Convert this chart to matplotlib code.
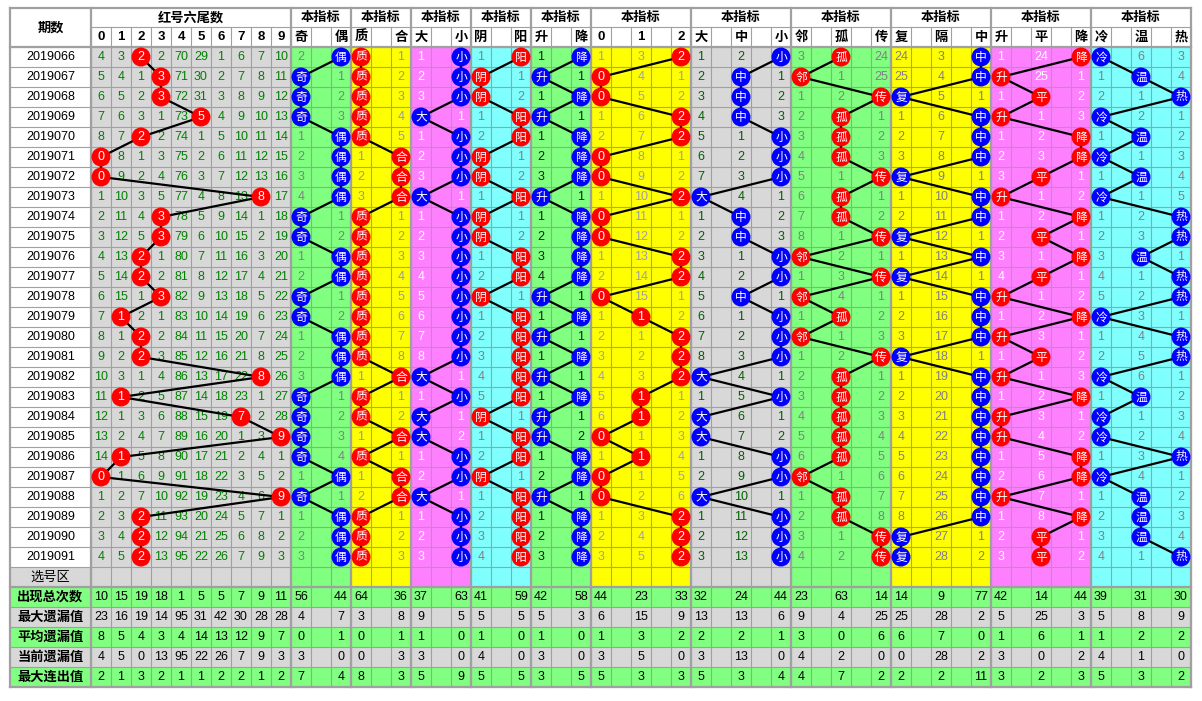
import matplotlib
matplotlib.use('Agg')
from matplotlib import pyplot as plt
from matplotlib.patches import Rectangle, Circle

plt.rcParams['font.family'] = ['Liberation Sans', 'Noto Sans CJK SC']

periods = ['2019066', '2019067', '2019068', '2019069', '2019070', '2019071', '2019072',
           '2019073', '2019074', '2019075', '2019076', '2019077', '2019078', '2019079',
           '2019080', '2019081', '2019082', '2019083', '2019084', '2019085', '2019086',
           '2019087', '2019088', '2019089', '2019090', '2019091']

digit_labels = ['0', '1', '2', '3', '4', '5', '6', '7', '8', '9']
# miss counts per row, 0 = hit (drawn as a ball)
digit_miss = [
    [4, 3, 0, 2, 70, 29, 1, 6, 7, 10],
    [5, 4, 1, 0, 71, 30, 2, 7, 8, 11],
    [6, 5, 2, 0, 72, 31, 3, 8, 9, 12],
    [7, 6, 3, 1, 73, 0, 4, 9, 10, 13],
    [8, 7, 0, 2, 74, 1, 5, 10, 11, 14],
    [0, 8, 1, 3, 75, 2, 6, 11, 12, 15],
    [0, 9, 2, 4, 76, 3, 7, 12, 13, 16],
    [1, 10, 3, 5, 77, 4, 8, 13, 0, 17],
    [2, 11, 4, 0, 78, 5, 9, 14, 1, 18],
    [3, 12, 5, 0, 79, 6, 10, 15, 2, 19],
    [4, 13, 0, 1, 80, 7, 11, 16, 3, 20],
    [5, 14, 0, 2, 81, 8, 12, 17, 4, 21],
    [6, 15, 1, 0, 82, 9, 13, 18, 5, 22],
    [7, 0, 2, 1, 83, 10, 14, 19, 6, 23],
    [8, 1, 0, 2, 84, 11, 15, 20, 7, 24],
    [9, 2, 0, 3, 85, 12, 16, 21, 8, 25],
    [10, 3, 1, 4, 86, 13, 17, 22, 0, 26],
    [11, 0, 2, 5, 87, 14, 18, 23, 1, 27],
    [12, 1, 3, 6, 88, 15, 19, 0, 2, 28],
    [13, 2, 4, 7, 89, 16, 20, 1, 3, 0],
    [14, 0, 5, 8, 90, 17, 21, 2, 4, 1],
    [0, 1, 6, 9, 91, 18, 22, 3, 5, 2],
    [1, 2, 7, 10, 92, 19, 23, 4, 6, 0],
    [2, 3, 0, 11, 93, 20, 24, 5, 7, 1],
    [3, 4, 0, 12, 94, 21, 25, 6, 8, 2],
    [4, 5, 0, 13, 95, 22, 26, 7, 9, 3],
]

odd_even = [[2, 0], [0, 1], [0, 2], [0, 3], [1, 0], [2, 0], [3, 0], [4, 0], [0, 1], [0, 2],
            [1, 0], [2, 0], [0, 1], [0, 2], [1, 0], [2, 0], [3, 0], [0, 1], [0, 2], [0, 3],
            [0, 4], [1, 0], [0, 1], [1, 0], [2, 0], [3, 0]]
prime_comp = [[0, 1], [0, 2], [0, 3], [0, 4], [0, 5], [1, 0], [2, 0], [3, 0], [0, 1], [0, 2],
              [0, 3], [0, 4], [0, 5], [0, 6], [0, 7], [0, 8], [1, 0], [0, 1], [0, 2], [1, 0],
              [0, 1], [1, 0], [2, 0], [0, 1], [0, 2], [0, 3]]
big_small = [[1, 0], [2, 0], [3, 0], [0, 1], [1, 0], [2, 0], [3, 0], [0, 1], [1, 0], [2, 0],
             [3, 0], [4, 0], [5, 0], [6, 0], [7, 0], [8, 0], [0, 1], [1, 0], [0, 1], [0, 2],
             [1, 0], [2, 0], [0, 1], [1, 0], [2, 0], [3, 0]]
yin_yang = [[1, 0], [0, 1], [0, 2], [1, 0], [2, 0], [0, 1], [0, 2], [1, 0], [0, 1], [0, 2],
            [1, 0], [2, 0], [0, 1], [1, 0], [2, 0], [3, 0], [4, 0], [5, 0], [0, 1], [1, 0],
            [2, 0], [0, 1], [1, 0], [2, 0], [3, 0], [4, 0]]
up_down = [[1, 0], [0, 1], [1, 0], [0, 1], [1, 0], [2, 0], [3, 0], [0, 1], [1, 0], [2, 0],
           [3, 0], [4, 0], [0, 1], [1, 0], [0, 1], [1, 0], [0, 1], [1, 0], [0, 1], [0, 2],
           [1, 0], [2, 0], [0, 1], [1, 0], [2, 0], [3, 0]]
mod3 = [[1, 3, 0], [0, 4, 1], [0, 5, 2], [1, 6, 0], [2, 7, 0], [0, 8, 1], [0, 9, 2],
        [1, 10, 0], [0, 11, 1], [0, 12, 2], [1, 13, 0], [2, 14, 0], [0, 15, 1], [1, 0, 2],
        [2, 1, 0], [3, 2, 0], [4, 3, 0], [5, 0, 1], [6, 0, 2], [0, 1, 3], [1, 0, 4],
        [0, 1, 5], [0, 2, 6], [1, 3, 0], [2, 4, 0], [3, 5, 0]]
size3 = [[1, 2, 0], [2, 0, 1], [3, 0, 2], [4, 0, 3], [5, 1, 0], [6, 2, 0], [7, 3, 0],
         [0, 4, 1], [1, 0, 2], [2, 0, 3], [3, 1, 0], [4, 2, 0], [5, 0, 1], [6, 1, 0],
         [7, 2, 0], [8, 3, 0], [0, 4, 1], [1, 5, 0], [0, 6, 1], [0, 7, 2], [1, 8, 0],
         [2, 9, 0], [0, 10, 1], [1, 11, 0], [2, 12, 0], [3, 13, 0]]
neighbor = [[3, 0, 24], [0, 1, 25], [1, 2, 0], [2, 0, 1], [3, 0, 2], [4, 0, 3], [5, 1, 0],
            [6, 0, 1], [7, 0, 2], [8, 1, 0], [0, 2, 1], [1, 3, 0], [0, 4, 1], [1, 0, 2],
            [0, 1, 3], [1, 2, 0], [2, 0, 1], [3, 0, 2], [4, 0, 3], [5, 0, 4], [6, 0, 5],
            [0, 1, 6], [1, 0, 7], [2, 0, 8], [3, 1, 0], [4, 2, 0]]
repeat = [[24, 3, 0], [25, 4, 0], [0, 5, 1], [1, 6, 0], [2, 7, 0], [3, 8, 0], [0, 9, 1],
          [1, 10, 0], [2, 11, 0], [0, 12, 1], [1, 13, 0], [0, 14, 1], [1, 15, 0], [2, 16, 0],
          [3, 17, 0], [0, 18, 1], [1, 19, 0], [2, 20, 0], [3, 21, 0], [4, 22, 0], [5, 23, 0],
          [6, 24, 0], [7, 25, 0], [8, 26, 0], [0, 27, 1], [0, 28, 2]]
trend3 = [[1, 24, 0], [0, 25, 1], [1, 0, 2], [0, 1, 3], [1, 2, 0], [2, 3, 0], [3, 0, 1],
          [0, 1, 2], [1, 2, 0], [2, 0, 1], [3, 1, 0], [4, 0, 1], [0, 1, 2], [1, 2, 0],
          [0, 3, 1], [1, 0, 2], [0, 1, 3], [1, 2, 0], [0, 3, 1], [0, 4, 2], [1, 5, 0],
          [2, 6, 0], [0, 7, 1], [1, 8, 0], [2, 0, 1], [3, 0, 2]]
temp3 = [[0, 6, 3], [1, 0, 4], [2, 1, 0], [0, 2, 1], [1, 0, 2], [0, 1, 3], [1, 0, 4],
         [0, 1, 5], [1, 2, 0], [2, 3, 0], [3, 0, 1], [4, 1, 0], [5, 2, 0], [0, 3, 1],
         [1, 4, 0], [2, 5, 0], [0, 6, 1], [1, 0, 2], [0, 1, 3], [0, 2, 4], [1, 3, 0],
         [0, 4, 1], [1, 0, 2], [2, 0, 3], [3, 0, 4], [4, 1, 0]]

stat_names = ['出现总次数', '最大遗漏值', '平均遗漏值', '当前遗漏值', '最大连出值']
digit_stats = [[10, 15, 19, 18, 1, 5, 5, 7, 9, 11],
               [23, 16, 19, 14, 95, 31, 42, 30, 28, 28],
               [8, 5, 4, 3, 4, 14, 13, 12, 9, 7],
               [4, 5, 0, 13, 95, 22, 26, 7, 9, 3],
               [2, 1, 3, 2, 1, 1, 2, 2, 1, 2]]
odd_even_stats = [[56, 44], [4, 7], [0, 1], [3, 0], [7, 4]]
prime_comp_stats = [[64, 36], [3, 8], [0, 1], [0, 3], [8, 3]]
big_small_stats = [[37, 63], [9, 5], [1, 0], [3, 0], [5, 9]]
yin_yang_stats = [[41, 59], [5, 5], [1, 0], [4, 0], [5, 5]]
up_down_stats = [[42, 58], [5, 3], [1, 0], [3, 0], [3, 5]]
mod3_stats = [[44, 23, 33], [6, 15, 9], [1, 3, 2], [3, 5, 0], [5, 3, 3]]
size3_stats = [[32, 24, 44], [13, 13, 6], [2, 2, 1], [3, 13, 0], [5, 3, 4]]
neighbor_stats = [[23, 63, 14], [9, 4, 25], [3, 0, 6], [4, 2, 0], [4, 7, 2]]
repeat_stats = [[14, 9, 77], [25, 28, 2], [6, 7, 0], [0, 28, 2], [2, 2, 11]]
trend3_stats = [[42, 14, 44], [5, 25, 3], [1, 6, 1], [3, 0, 2], [3, 2, 3]]
temp3_stats = [[39, 31, 30], [5, 8, 9], [1, 2, 2], [4, 1, 0], [5, 3, 2]]

GREEN, YELLOW, PINK, CYAN, GRAY = '#80FF80', '#FFFF00', '#FF80FF', '#80FFFF', '#D8D8D8'
RED, BLUE = '#FF0000', '#0000FF'

# labels, data, stats, background, miss-number colour, ball colour
groups = [
    (['奇', '偶'], odd_even, odd_even_stats, GREEN, '#808080', BLUE),
    (['质', '合'], prime_comp, prime_comp_stats, YELLOW, '#999999', RED),
    (['大', '小'], big_small, big_small_stats, PINK, '#FFFFFF', BLUE),
    (['阴', '阳'], yin_yang, yin_yang_stats, CYAN, '#808080', RED),
    (['升', '降'], up_down, up_down_stats, GREEN, '#102010', BLUE),
    (['0', '1', '2'], mod3, mod3_stats, YELLOW, '#A0A0A0', RED),
    (['大', '中', '小'], size3, size3_stats, GRAY, '#006000', BLUE),
    (['邻', '孤', '传'], neighbor, neighbor_stats, GREEN, '#808080', RED),
    (['复', '隔', '中'], repeat, repeat_stats, YELLOW, '#808080', BLUE),
    (['升', '平', '降'], trend3, trend3_stats, PINK, '#FFFFFF', RED),
    (['冷', '温', '热'], temp3, temp3_stats, CYAN, '#808080', BLUE),
]

fig = plt.figure(figsize=(12.02, 7.01), dpi=100)
ax = fig.add_axes([0, 0, 1, 1])
ax.set_xlim(0, 1202)
ax.set_ylim(701, 0)
ax.axis('off')

X0, XL, CW = 10, 91, 20
Y0, YH, YD, RH = 8, 27, 47, 20
n = len(periods)
y_pick = YD + n * RH
y_stat = y_pick + RH
y_end = y_stat + 5 * RH
XD = XL + CW * len(digit_labels)

gx = [XD]
for g in groups:
    gx.append(gx[-1] + CW * (2 * len(g[0]) - 1))
XR = gx[-1]


def rect(x, y, w, h, c, z=0):
    ax.add_patch(Rectangle((x, y), w, h, fc=c, ec='none', zorder=z))


def txt(x, y, s, c='black', size=9, weight='normal', z=2):
    ax.text(x, y + 0.5, s, ha='center', va='center', color=c, fontsize=size,
            fontweight=weight, zorder=z)


def ball(x, y, s, c):
    ax.add_patch(Circle((x, y), 9.5, fc=c, ec='none', zorder=4))
    txt(x, y, s, 'white', 9 if s.isdigit() else 8.5, z=5)


# backgrounds
rect(X0, Y0, XR - X0, YD - Y0, 'white')
rect(X0, YD, XL - X0, n * RH, 'white')
rect(X0, y_pick, XL - X0, RH, GRAY)
rect(XL, YD, XD - XL, (n + 1) * RH, GRAY)
for i, g in enumerate(groups):
    rect(gx[i], YD, gx[i + 1] - gx[i], (n + 1) * RH, g[3])
for k in range(5):
    rect(X0, y_stat + k * RH, XR - X0, RH, GREEN if k % 2 == 0 else GRAY)

# grid
lc = '#A0A0A0'
for k in range(n + 7):
    ax.plot([X0, XR], [YD + k * RH] * 2, color=lc, lw=0.8, zorder=1)
ax.plot([XL, XR], [YH, YH], color=lc, lw=0.8, zorder=1)
for x in range(XL, XR + 1, CW):
    ax.plot([x, x], [YH, y_end], color=lc, lw=0.8, zorder=1)
for x in [X0, XL] + gx:
    ax.plot([x, x], [Y0, y_end], color=lc, lw=1.6, zorder=1.5)
for y in [Y0, YD, y_stat, y_end]:
    ax.plot([X0, XR], [y, y], color=lc, lw=1.6, zorder=1.5)

# headers
txt((X0 + XL) / 2, (Y0 + YD) / 2, '期数', size=9.5, weight='bold')
txt((XL + XD) / 2, (Y0 + YH) / 2, '红号六尾数', size=9.5, weight='bold')
for j, lab in enumerate(digit_labels):
    txt(XL + CW * j + CW / 2, (YH + YD) / 2, lab, size=9.5, weight='bold')
for i, g in enumerate(groups):
    txt((gx[i] + gx[i + 1]) / 2, (Y0 + YH) / 2, '本指标', size=9.5, weight='bold')
    for k, lab in enumerate(g[0]):
        txt(gx[i] + CW * 2 * k + CW / 2, (YH + YD) / 2, lab, size=9.5, weight='bold')

# period labels
for r, p in enumerate(periods):
    txt((X0 + XL) / 2, YD + r * RH + RH / 2, p, size=9)
txt((X0 + XL) / 2, y_pick + RH / 2, '选号区', size=9.5)

# digit section
pts = []
for r, row in enumerate(digit_miss):
    cy = YD + r * RH + RH / 2
    for j, v in enumerate(row):
        cx = XL + CW * j + CW / 2
        if v == 0:
            ball(cx, cy, digit_labels[j], RED)
            pts.append((cx, cy))
        else:
            txt(cx, cy, str(v), '#008000')
ax.plot([p[0] for p in pts], [p[1] for p in pts], color='black', lw=1.6, zorder=3)

# indicator groups
for i, (labels, data, stats, bg, tc, bc) in enumerate(groups):
    pts = []
    for r, row in enumerate(data):
        cy = YD + r * RH + RH / 2
        for k, v in enumerate(row):
            cx = gx[i] + CW * 2 * k + CW / 2
            if v == 0:
                ball(cx, cy, labels[k], bc)
                pts.append((cx, cy))
            else:
                txt(cx, cy, str(v), tc)
    ax.plot([p[0] for p in pts], [p[1] for p in pts], color='black', lw=1.6, zorder=3)

# statistics rows
for k, name in enumerate(stat_names):
    cy = y_stat + k * RH + RH / 2
    txt((X0 + XL) / 2, cy, name, size=9.5, weight='bold')
    for j, v in enumerate(digit_stats[k]):
        txt(XL + CW * j + CW / 2, cy, str(v), size=9)
    for i, g in enumerate(groups):
        for m, v in enumerate(g[2][k]):
            txt(gx[i] + CW * 2 * m + CW / 2, cy, str(v), size=9)

fig.savefig('out.png', dpi=100)
